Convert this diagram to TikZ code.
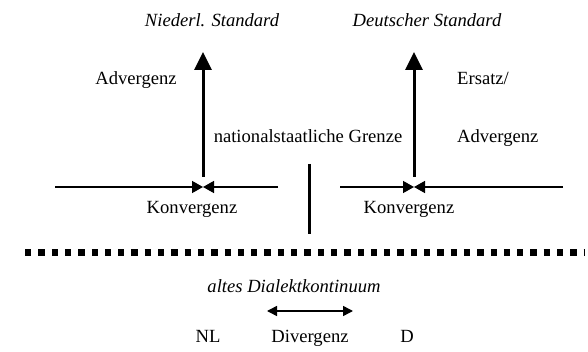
\documentclass[tikz,border=0pt]{standalone}
\usepackage{fontspec}
\setmainfont{Liberation Serif}
\usetikzlibrary{arrows.meta}
\tikzset{
  lab/.style={inner sep=0pt, anchor=base, font=\fontsize{18.6}{22}\selectfont},
  ilab/.style={lab, font=\fontsize{18.6}{22}\selectfont\itshape},
  varrow/.style={line width=3pt, -{Triangle[length=18pt,width=17pt]}},
  harrow/.style={line width=1.5pt, -{Triangle[length=11pt,width=12pt]}},
  darrow/.style={line width=1.5pt, {Triangle[length=10pt,width=10pt]}-{Triangle[length=10pt,width=10pt]}},
  border/.style={line width=3pt},
  dots/.style={line width=7pt, dash pattern=on 6.3pt off 7pt}
}
\begin{document}
\begin{tikzpicture}[x=1pt,y=-1pt]
\useasboundingbox (0,0) rectangle (588,352);
% headings
\node[ilab] (nls) at (212,27) {Niederl. Standard};
\node[ilab] (ds) at (427,27) {Deutscher Standard};
% labels
\node[lab] (adv1) at (136,85) {Advergenz};
\node[lab, anchor=base west] (ers) at (457,85) {Ersatz/};
\node[lab] (grenze) at (308,143) {nationalstaatliche Grenze};
\node[lab, anchor=base west] (adv2) at (457,143) {Advergenz};
\node[lab] (konv1) at (192,214) {Konvergenz};
\node[lab] (konv2) at (409,214) {Konvergenz};
\node[ilab] (altes) at (294,292) {altes Dialektkontinuum};
\node[lab] (nl) at (208,342) {NL};
\node[lab] (div) at (310,342) {Divergenz};
\node[lab] (d) at (407,342) {D};
% coordinates
\coordinate (l0) at (55,187);
\coordinate (lc) at (203,187);
\coordinate (l1) at (278,187);
\coordinate (r0) at (340,187);
\coordinate (rc) at (414,187);
\coordinate (r1) at (563,187);
\coordinate (lvb) at (203,177);
\coordinate (lvt) at (203,52);
\coordinate (rvb) at (414,177);
\coordinate (rvt) at (414,52);
\coordinate (bt) at (309,164);
\coordinate (bb) at (309,234);
\coordinate (dl) at (25,253);
\coordinate (dr) at (584,253);
\coordinate (al) at (267,311);
\coordinate (ar) at (353,311);
% drawing
\draw[varrow] (lvb) -- (lvt);
\draw[varrow] (rvb) -- (rvt);
\draw[harrow] (l0) -- (lc);
\draw[harrow] (l1) -- (lc);
\draw[harrow] (r0) -- (rc);
\draw[harrow] (r1) -- (rc);
\draw[border] (bt) -- (bb);
\draw[dots] (dl) -- (dr);
\draw[darrow] (al) -- (ar);
\end{tikzpicture}
\end{document}
